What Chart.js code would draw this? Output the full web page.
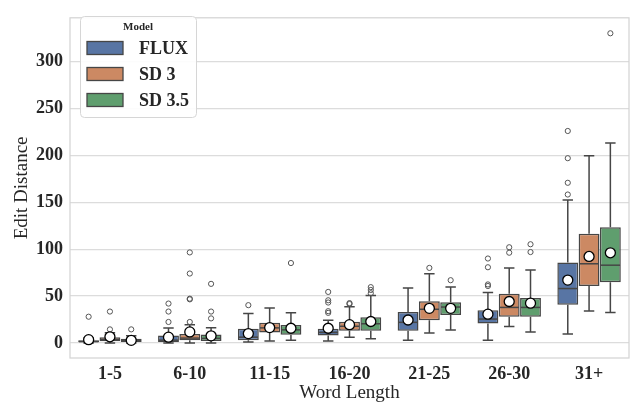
<!DOCTYPE html>
<html>
<head>
<meta charset="utf-8">
<script src="https://cdn.jsdelivr.net/npm/chart.js@4.4.0/dist/chart.umd.min.js"></script>
<style>
  body { margin: 0; background: #fff; }
  #wrap { width: 633px; height: 404px; }
</style>
</head>
<body>
<div id="wrap"><canvas id="chartEditDistance"></canvas></div>
<script>
// word length buckets
var categories = ['1-5', '6-10', '11-15', '16-20', '21-25', '26-30', '31+'];
var models = ['FLUX', 'SD 3', 'SD 3.5'];
var modelColors = ['#5875a4', '#cc8963', '#5f9e6e'];
var yTicks = [0, 50, 100, 150, 200, 250, 300];

// FLUX box stats
var fluxLo   = [0, 0, 1, 2, 2.8, 2.8, 9.7];
var fluxQ1   = [0.7, 1, 2.8, 7.9, 13.1, 20.7, 40.8];
var fluxMed  = [1.5, 3, 6.2, 11.3, 22, 25.5, 58];
var fluxQ3   = [2.8, 8, 15.1, 15.1, 33.1, 34.9, 85.7];
var fluxHi   = [5, 16, 31.5, 24.3, 58.6, 53.8, 152.3];
var fluxMean = [3.5, 6.2, 10, 15.7, 24.5, 30.7, 67];
var fluxOut  = [[28], [22.4, 33.5, 42], [40.3], [32.1, 33.9, 43.1, 45.5, 54.4], [], [60.7, 62.4, 80.7, 90], [158.2, 170.7, 196.9, 225.9]];

// SD 3 box stats
var sd3Lo   = [0, 0, 2, 6.2, 10.7, 17.6, 34.2];
var sd3Q1   = [1.8, 2.8, 11.3, 13, 24.1, 27.9, 60.8];
var sd3Med  = [3.8, 5.2, 16.1, 17.8, 35.9, 37.9, 84.4];
var sd3Q3   = [6.2, 9.7, 21.6, 22.6, 44.5, 52.4, 116.5];
var sd3Hi   = [11, 19.3, 37.3, 38.7, 73.7, 80, 199.4];
var sd3Mean = [6.6, 11.8, 16.4, 19.5, 36.9, 44.2, 92.2];
var sd3Out  = [[14.5, 33.5], [22.4, 46.5, 47.2, 74, 96.5], [], [41.5, 42.5], [80], [96.2, 102], []];

// SD 3.5 box stats
var sd35Lo   = [0, 0, 2.8, 4.4, 13.8, 11.7, 32.5];
var sd35Q1   = [1, 2, 8.9, 13, 29.7, 27.9, 64.7];
var sd35Med  = [2.5, 4.9, 14, 20.5, 38.3, 37.9, 82.9];
var sd35Q3   = [4.5, 9, 19.2, 27.4, 43.4, 47.9, 123.3];
var sd35Hi   = [7.6, 16.2, 32.1, 50.6, 59.7, 77.9, 213.2];
var sd35Mean = [2.8, 7.6, 15.7, 22.9, 36.9, 42.4, 96.1];
var sd35Out  = [[14.5], [26.2, 33.5, 63], [85.2], [53, 56.5, 59.5], [66.9], [96.9, 105.2], [330]];

var stats = [
  { lo: fluxLo, q1: fluxQ1, med: fluxMed, q3: fluxQ3, hi: fluxHi, mean: fluxMean, out: fluxOut },
  { lo: sd3Lo, q1: sd3Q1, med: sd3Med, q3: sd3Q3, hi: sd3Hi, mean: sd3Mean, out: sd3Out },
  { lo: sd35Lo, q1: sd35Q1, med: sd35Med, q3: sd35Q3, hi: sd35Hi, mean: sd35Mean, out: sd35Out }
];

var serif = "'Liberation Serif', 'Times New Roman', serif";
var lineColor = '#464646';
var textColor = '#262626';

// whiskers, medians, means, outliers, frame and legend
var boxExtras = {
  id: 'boxExtras',
  beforeDatasetsDraw: function(chart) {
    var ctx = chart.ctx, area = chart.chartArea, y = chart.scales.y;
    ctx.save();
    // light frame around plot
    ctx.strokeStyle = '#d3d3d3';
    ctx.lineWidth = 1.2;
    ctx.strokeRect(area.left, area.top, area.right - area.left, area.bottom - area.top);
    // whiskers + caps
    ctx.strokeStyle = lineColor;
    ctx.lineWidth = 1.5;
    stats.forEach(function(s, i) {
      chart.getDatasetMeta(i).data.forEach(function(bar, j) {
        var half = bar.width / 4;
        var yLo = y.getPixelForValue(s.lo[j]), yHi = y.getPixelForValue(s.hi[j]);
        var yQ1 = y.getPixelForValue(s.q1[j]), yQ3 = y.getPixelForValue(s.q3[j]);
        ctx.beginPath();
        ctx.moveTo(bar.x, yQ1); ctx.lineTo(bar.x, yLo);
        ctx.moveTo(bar.x - half, yLo); ctx.lineTo(bar.x + half, yLo);
        ctx.moveTo(bar.x, yQ3); ctx.lineTo(bar.x, yHi);
        ctx.moveTo(bar.x - half, yHi); ctx.lineTo(bar.x + half, yHi);
        ctx.stroke();
      });
    });
    ctx.restore();
  },
  afterDatasetsDraw: function(chart) {
    var ctx = chart.ctx, y = chart.scales.y;
    ctx.save();
    stats.forEach(function(s, i) {
      chart.getDatasetMeta(i).data.forEach(function(bar, j) {
        var half = bar.width / 2 - 0.75;
        // median
        var yMed = y.getPixelForValue(s.med[j]);
        ctx.strokeStyle = lineColor;
        ctx.lineWidth = 1.5;
        ctx.beginPath();
        ctx.moveTo(bar.x - half, yMed); ctx.lineTo(bar.x + half, yMed);
        ctx.stroke();
        // outliers
        ctx.strokeStyle = '#555555';
        ctx.lineWidth = 1;
        s.out[j].forEach(function(v) {
          ctx.beginPath();
          ctx.arc(bar.x, y.getPixelForValue(v), 2.6, 0, Math.PI * 2);
          ctx.stroke();
        });
        // mean marker
        ctx.fillStyle = '#ffffff';
        ctx.strokeStyle = '#000000';
        ctx.lineWidth = 1.3;
        ctx.beginPath();
        ctx.arc(bar.x, y.getPixelForValue(s.mean[j]), 5, 0, Math.PI * 2);
        ctx.fill();
        ctx.stroke();
      });
    });
    ctx.restore();
  },
  afterDraw: function(chart) {
    var ctx = chart.ctx;
    var bx = 80, by = 16, bw = 116, bh = 101;
    ctx.save();
    ctx.fillStyle = 'rgba(255,255,255,0.9)';
    ctx.strokeStyle = '#d6d6d6';
    ctx.lineWidth = 1;
    ctx.beginPath();
    ctx.roundRect(bx + 0.5, by + 0.5, bw, bh, 4);
    ctx.fill();
    ctx.stroke();
    ctx.fillStyle = textColor;
    ctx.textAlign = 'center';
    ctx.textBaseline = 'middle';
    ctx.font = 'bold 11px ' + serif;
    ctx.fillText('Model', bx + bw / 2, by + 11);
    ctx.textAlign = 'left';
    ctx.font = 'bold 18px ' + serif;
    models.forEach(function(name, i) {
      var cy = by + 32 + i * 26;
      ctx.fillStyle = modelColors[i];
      ctx.fillRect(87, cy - 6.5, 36, 13);
      ctx.strokeStyle = lineColor;
      ctx.lineWidth = 1.3;
      ctx.strokeRect(87, cy - 6.5, 36, 13);
      ctx.fillStyle = textColor;
      ctx.fillText(name, 139, cy + 1);
    });
    ctx.restore();
  }
};

var datasets = models.map(function(name, i) {
  return {
    label: name,
    data: stats[i].q1.map(function(v, j) { return [v, stats[i].q3[j]]; }),
    backgroundColor: modelColors[i],
    borderColor: lineColor,
    borderWidth: 1.5,
    borderSkipped: false,
    categoryPercentage: 0.8,
    barPercentage: 0.98
  };
});

new Chart(document.getElementById('chartEditDistance'), {
  type: 'bar',
  data: { labels: categories, datasets: datasets },
  plugins: [boxExtras],
  options: {
    responsive: true,
    maintainAspectRatio: false,
    devicePixelRatio: 1,
    animation: false,
    layout: { padding: { top: 7, right: 4, left: 0, bottom: 0 } },
    plugins: {
      legend: { display: false },
      tooltip: { enabled: false }
    },
    scales: {
      x: {
        grid: { display: false, drawTicks: false },
        border: { display: false },
        ticks: { color: textColor, padding: 6, font: { family: serif, size: 18, weight: 'bold' } },
        title: { display: true, text: 'Word Length', color: textColor, padding: 0, font: { family: serif, size: 19 } },
        afterFit: function(scale) { scale.height = 46; }
      },
      y: {
        min: -16,
        max: 346.5,
        grid: { color: '#dcdcdc', lineWidth: 1.2, drawTicks: false },
        border: { display: false },
        ticks: { stepSize: 50, includeBounds: false, color: textColor, padding: 7, font: { family: serif, size: 18, weight: 'bold' } },
        afterBuildTicks: function(scale) {
          scale.ticks = yTicks.map(function(v) { return { value: v }; });
        },
        title: { display: true, text: 'Edit Distance', color: textColor, padding: { top: 11, bottom: 0 }, font: { family: serif, size: 19 } },
        afterFit: function(scale) { scale.width = 70; }
      }
    }
  }
});
</script>
</body>
</html>
